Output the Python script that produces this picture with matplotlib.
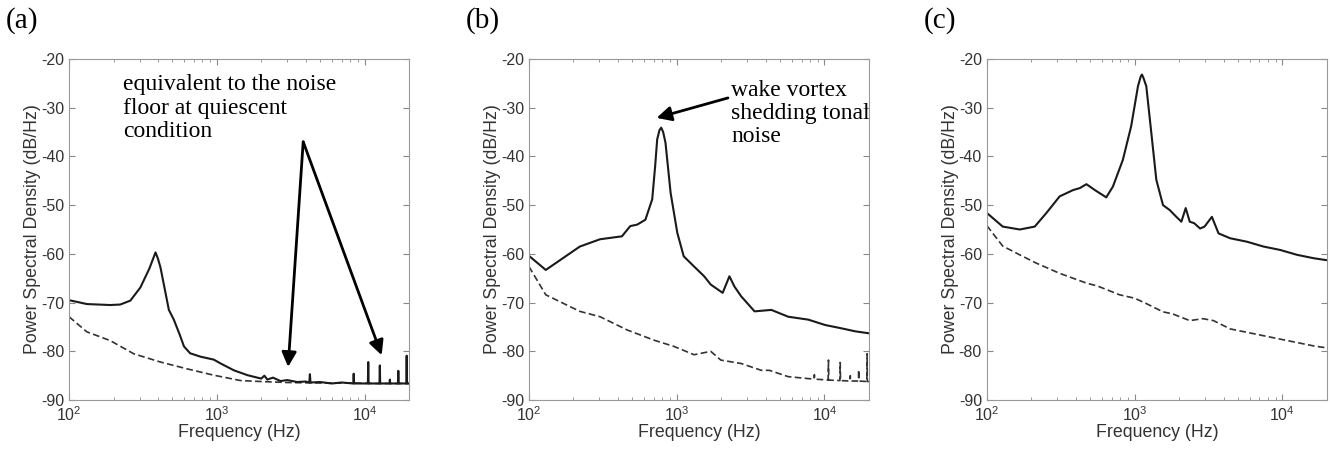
import matplotlib
matplotlib.use("Agg")
import matplotlib.pyplot as plt
from matplotlib.ticker import LogLocator

plt.rcParams['font.family'] = ['Liberation Sans', 'DejaVu Sans']
plt.rcParams['mathtext.fontset'] = 'custom'
plt.rcParams['mathtext.rm'] = 'Liberation Sans'
plt.rcParams['mathtext.it'] = 'Liberation Sans'
plt.rcParams['axes.unicode_minus'] = False

# panel (a)
a_solid_f = [100, 132, 190, 222, 260, 304, 350, 385, 400, 416, 474, 512, 560, 600, 660, 777, 954,
             1063, 1306, 1616, 2000, 2100, 2200, 2400, 2700, 3000, 3500, 4000, 4230, 4270, 4310,
             5000, 6000, 7000, 8400, 8450, 8500, 10540, 10600, 10660, 12630, 12700, 12770,
             14780, 14850, 14920, 16860, 16940, 17020, 19200, 19300, 19400, 20000]
a_solid_v = [-69.5, -70.3, -70.5, -70.4, -69.6, -66.9, -63.0, -59.7, -61.0, -62.8, -71.5, -73.5,
             -76.5, -79.0, -80.4, -81.1, -81.7, -82.5, -83.9, -84.9, -85.6, -85.0, -85.8, -85.4,
             -86.1, -85.9, -86.3, -86.2, -86.4, -84.7, -86.4, -86.3, -86.6, -86.4, -86.6, -84.6,
             -86.6, -86.6, -82.2, -86.6, -86.6, -82.9, -86.6, -86.6, -85.8, -86.6, -86.6, -84.0,
             -86.6, -86.6, -80.9, -86.6, -86.6]
a_dash_f = [100, 132, 190, 274, 416, 630, 954, 1450, 2000, 3000, 5000, 8000, 12000, 20000]
a_dash_v = [-72.9, -76.0, -77.8, -80.5, -82.2, -83.6, -84.9, -86.0, -86.2, -86.4, -86.5, -86.5,
            -86.6, -86.6]

# panel (b)
b_solid_f = [100, 130, 221, 303, 426, 485, 540, 614, 683, 715, 738, 765, 786, 810, 840, 910,
             1010, 1116, 1312, 1535, 1700, 2048, 2275, 2460, 2730, 3366, 4373, 5688, 7786,
             10110, 13130, 16180, 20000]
b_solid_v = [-60.4, -63.3, -58.5, -57.0, -56.4, -54.3, -54.0, -53.0, -48.8, -42.0, -36.5, -34.6,
             -34.1, -35.0, -37.2, -47.5, -55.7, -60.5, -62.6, -64.6, -66.3, -68.0, -64.6, -66.7,
             -68.7, -71.8, -71.5, -72.9, -73.5, -74.6, -75.3, -75.9, -76.3]
b_dash_f = [100, 130, 221, 303, 461, 700, 960, 1312, 1700, 1990, 2730, 3740, 4240, 5688, 7786,
            8500, 8550, 8600, 10600, 10650, 10700, 12730, 12790, 12850, 14900, 14960, 15020,
            17000, 17060, 17120, 19390, 19450, 19510, 20000]
b_dash_v = [-62.6, -68.4, -71.8, -72.9, -75.6, -77.7, -79.0, -80.7, -80.0, -81.8, -82.5, -83.9,
            -83.9, -85.2, -85.6, -85.7, -84.8, -85.7, -85.9, -81.8, -85.9, -86.0, -82.3, -86.0,
            -86.1, -85.0, -86.1, -86.1, -83.8, -86.1, -86.2, -80.5, -86.2, -86.2]

# panel (c)
c_solid_f = [100, 128, 167, 211, 253, 311, 384, 426, 472, 538, 643, 713, 833, 948, 1054, 1100,
             1121, 1145, 1200, 1298, 1403, 1557, 1727, 1917, 2073, 2218, 2362, 2530, 2775, 2975,
             3336, 3700, 4438, 5750, 7460, 9680, 12580, 16330, 20000]
c_solid_v = [-51.6, -54.4, -55.0, -54.4, -51.6, -48.2, -46.9, -46.5, -45.7, -46.9, -48.4, -46.2,
             -40.7, -33.8, -25.6, -23.6, -23.2, -23.8, -25.6, -35.2, -44.8, -50.0, -51.0, -52.4,
             -53.4, -50.6, -53.4, -53.7, -54.8, -54.4, -52.4, -55.8, -56.8, -57.5, -58.5, -59.2,
             -60.2, -60.9, -61.3]
c_dash_f = [100, 128, 167, 216, 311, 472, 561, 791, 1000, 1200, 1557, 1800, 2362, 2900, 3420,
            4438, 5750, 7460, 9680, 12580, 16330, 20000]
c_dash_v = [-54.2, -58.4, -60.2, -61.9, -64.0, -66.0, -66.6, -68.4, -69.1, -70.2, -71.9, -72.3,
            -73.7, -73.3, -73.7, -75.4, -76.1, -76.8, -77.5, -78.2, -78.9, -79.3]

panel_labels = ['(a)', '(b)', '(c)']
y_ticks = [-90, -80, -70, -60, -50, -40, -30, -20]

fig = plt.figure(figsize=(13.3, 4.5), dpi=100)
lefts = [0.0519, 0.3977, 0.742]
axes = [fig.add_axes([l, 0.111, 0.2556, 0.758]) for l in lefts]

data = [(a_solid_f, a_solid_v, a_dash_f, a_dash_v),
        (b_solid_f, b_solid_v, b_dash_f, b_dash_v),
        (c_solid_f, c_solid_v, c_dash_f, c_dash_v)]

for ax, (sf, sv, df, dv), lab in zip(axes, data, panel_labels):
    ax.plot(df, dv, color='#333333', lw=1.2, ls=(0, (4, 2)))
    ax.plot(sf, sv, color='#1a1a1a', lw=1.5)
    ax.set_xscale('log')
    ax.set_xlim(100, 20000)
    ax.set_ylim(-90, -20)
    ax.set_yticks(y_ticks)
    ax.xaxis.set_minor_locator(LogLocator(base=10, subs=range(2, 10)))
    ax.tick_params(which='both', direction='in', top=True, right=True, colors='#888888',
                   labelcolor='#333333', labelsize=11.5)
    ax.tick_params(which='major', length=4)
    ax.tick_params(which='minor', length=2)
    for s in ax.spines.values():
        s.set_color('#999999')
    ax.set_xlabel('Frequency (Hz)', fontsize=12.8, color='#333333', labelpad=0)
    ax.set_ylabel('Power Spectral Density (dB/Hz)', fontsize=12.8, color='#333333', labelpad=0)
    ax.text(-0.185, 1.112, lab, transform=ax.transAxes, fontsize=21, family='Liberation Serif',
            va='center', ha='left')

arrow = dict(arrowstyle='-|>', lw=2, color='black', mutation_scale=22, shrinkA=0, shrinkB=0)

ax = axes[0]
ax.text(233, -30.1, 'equivalent to the noise\nfloor at quiescent\ncondition', fontsize=17,
        family='Liberation Serif', va='center', ha='left', linespacing=1.15)
ax.annotate('', xy=(3040, -83.2), xytext=(3846, -37.0), arrowprops=arrow)
ax.annotate('', xy=(13060, -80.8), xytext=(3846, -37.0), arrowprops=arrow)

ax = axes[1]
ax.text(2330, -31.2, 'wake vortex\nshedding tonal\nnoise', fontsize=17,
        family='Liberation Serif', va='center', ha='left', linespacing=1.15)
ax.annotate('', xy=(731, -32.1), xytext=(2223, -28.0), arrowprops=arrow)

fig.savefig('out.png', dpi=100)
